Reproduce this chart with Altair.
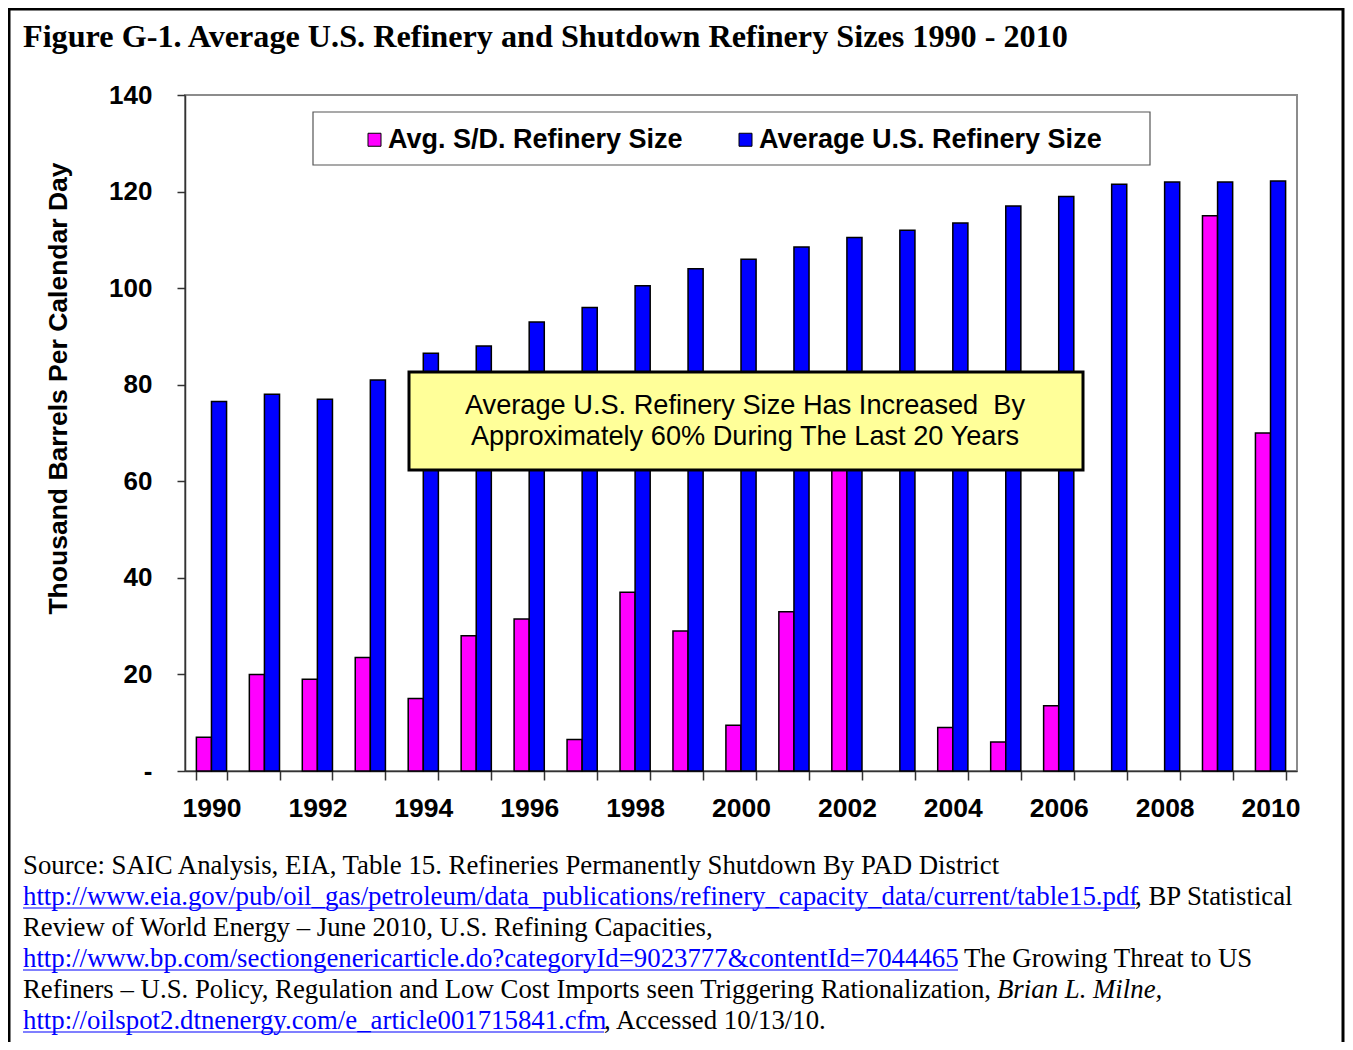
import altair as alt
import pandas as pd

# ---------------- data ----------------
years = list(range(1990, 2011))
sd_size = [7, 20, 19, 23.5, 15, 28, 31.5, 6.5, 37, 29, 9.5, 33, 66, None,
           9, 6, 13.5, None, None, 115, 70]
us_size = [76.5, 78, 77, 81, 86.5, 88, 93, 96, 100.5, 104, 106, 108.5, 110.5,
           112, 113.5, 117, 119, 121.5, 122, 122, 122.2]
series_names = ["Avg. S/D. Refinery Size", "Average U.S. Refinery Size"]
series_colors = ["#FF00FF", "#0000FF"]
y_ticks = [0, 20, 40, 60, 80, 100, 120, 140]

title_text = "Figure G-1. Average U.S. Refinery and Shutdown Refinery Sizes 1990 - 2010"
y_title = "Thousand Barrels Per Calendar Day"
note_lines = ["Average U.S. Refinery Size Has Increased\u00a0 By",
              "Approximately 60% During The Last 20 Years"]

rows = []
for i, yr in enumerate(years):
    for name, vals in zip(series_names, [sd_size, us_size]):
        if vals[i] is not None:
            rows.append({"year": yr, "series": name, "value": vals[i]})
df = pd.DataFrame(rows)

SANS = "Liberation Sans"
SERIF = "Liberation Serif"
SRC = 26.8
one = pd.DataFrame({"k": [0]})


def txt(text, x, y, font=SERIF, size=SRC, weight="normal", style="normal",
        color="black", align="left", baseline="middle"):
    return alt.Chart(one).mark_text(
        text=text, font=font, fontSize=size, fontWeight=weight, fontStyle=style,
        color=color, align=align, baseline=baseline
    ).encode(x=alt.value(x), y=alt.value(y))


def rule(x1, x2, y, color="#0000FF", width=1.2):
    return alt.Chart(one).mark_rule(color=color, strokeWidth=width).encode(
        x=alt.value(x1), x2=alt.value(x2), y=alt.value(y))


# ---------------- bars ----------------
bars = alt.Chart(df).mark_bar(stroke="black", strokeWidth=1.5).encode(
    x=alt.X("year:O", title=None,
            scale=alt.Scale(paddingInner=0.43, paddingOuter=0.215),
            axis=alt.Axis(labelAngle=0, tickBand="extent", tickSize=9,
                          tickColor="#333", tickWidth=1.5,
                          domainColor="#333", domainWidth=1.5,
                          labelFont=SANS, labelFontWeight="bold",
                          labelFontSize=26.5, labelColor="black",
                          labelPadding=15, labelOverlap=False,
                          labelExpr="datum.value % 2 == 0 ? datum.label : ''")),
    xOffset=alt.XOffset("series:N", scale=alt.Scale(domain=series_names,
                                                    paddingInner=0, paddingOuter=0)),
    y=alt.Y("value:Q", stack=None,
            scale=alt.Scale(domain=[0, 140], nice=False),
            axis=alt.Axis(values=y_ticks, grid=False, tickSize=8,
                          tickColor="#333", tickWidth=1.5,
                          domainColor="#333", domainWidth=1.5,
                          labelFont=SANS, labelFontWeight="bold",
                          labelFontSize=26, labelColor="black", labelPadding=25,
                          labelExpr="datum.value == 0 ? '-\u2002\u2002' : datum.label",
                          title=y_title, titleFont=SANS, titleFontWeight="bold",
                          titleFontSize=26.5, titleColor="black",
                          titleX=-127, titleY=293, titleAlign="center",
                          titleBaseline="middle", titleAngle=270)),
    color=alt.Color("series:N",
                    scale=alt.Scale(domain=series_names, range=series_colors),
                    legend=alt.Legend(title=None, orient="none", legendX=176,
                                      legendY=31, direction="horizontal",
                                      symbolType="square", symbolSize=169,
                                      symbolStrokeColor="black",
                                      symbolStrokeWidth=1, symbolOpacity=1,
                                      labelFont=SANS, labelFontWeight="bold",
                                      labelFontSize=27, labelColor="black",
                                      labelLimit=0, columnPadding=49,
                                      labelOffset=0, padding=0)),
)

legend_box = alt.Chart(one).mark_rect(fill="white", stroke="#555", strokeWidth=1.2).encode(
    x=alt.value(128), x2=alt.value(965), y=alt.value(17), y2=alt.value(70))

note_box = alt.Chart(one).mark_rect(fill="#FFFF99", stroke="black", strokeWidth=3).encode(
    x=alt.value(224), x2=alt.value(898), y=alt.value(277), y2=alt.value(375))

frame = alt.Chart(one).mark_rect(fill=None, stroke="black", strokeWidth=3).encode(
    x=alt.value(-176), x2=alt.value(1158), y=alt.value(-86), y2=alt.value(2000))

layers = [frame, legend_box, bars, note_box,
          txt(note_lines[0], 560, 311, font=SANS, size=27.2, align="center"),
          txt(note_lines[1], 560, 342, font=SANS, size=27.2, align="center"),
          txt(title_text, -162, -58, size=32.2, weight="bold"),
          # source block
          txt("Source: SAIC Analysis, EIA, Table 15. Refineries Permanently Shutdown By PAD District", -162, 771),
          txt("http://www.eia.gov/pub/oil_gas/petroleum/data_publications/refinery_capacity_data/current/table15.pdf",
              -162, 802, color="#0000FF"),
          txt(", BP Statistical", 950, 802),
          txt("Review of World Energy \u2013 June 2010, U.S. Refining Capacities,", -162, 833),
          txt("http://www.bp.com/sectiongenericarticle.do?categoryId=9023777&contentId=7044465",
              -162, 864, color="#0000FF"),
          txt("The Growing Threat to US", 779, 864),
          txt("Refiners \u2013 U.S. Policy, Regulation and Low Cost Imports seen Triggering Rationalization,",
              -162, 895),
          txt("Brian L. Milne,", 812, 895, style="italic"),
          txt("http://oilspot2.dtnenergy.com/e_article001715841.cfm", -162, 926, color="#0000FF"),
          txt(", Accessed 10/13/10.", 419, 926),
          rule(-162, 950, 813),
          rule(-162, 773, 875),
          rule(-162, 419, 937),
          ]

chart = alt.layer(*layers).properties(
    width=1112, height=676,
    autosize=alt.AutoSizeParams(type="none"),
    padding={"left": 177, "top": 87, "right": 48, "bottom": 271},
    background="white",
).configure_view(stroke="#8c8c8c", strokeWidth=2)

chart.save("out.html", embed_options={"renderer": "svg", "actions": False})
